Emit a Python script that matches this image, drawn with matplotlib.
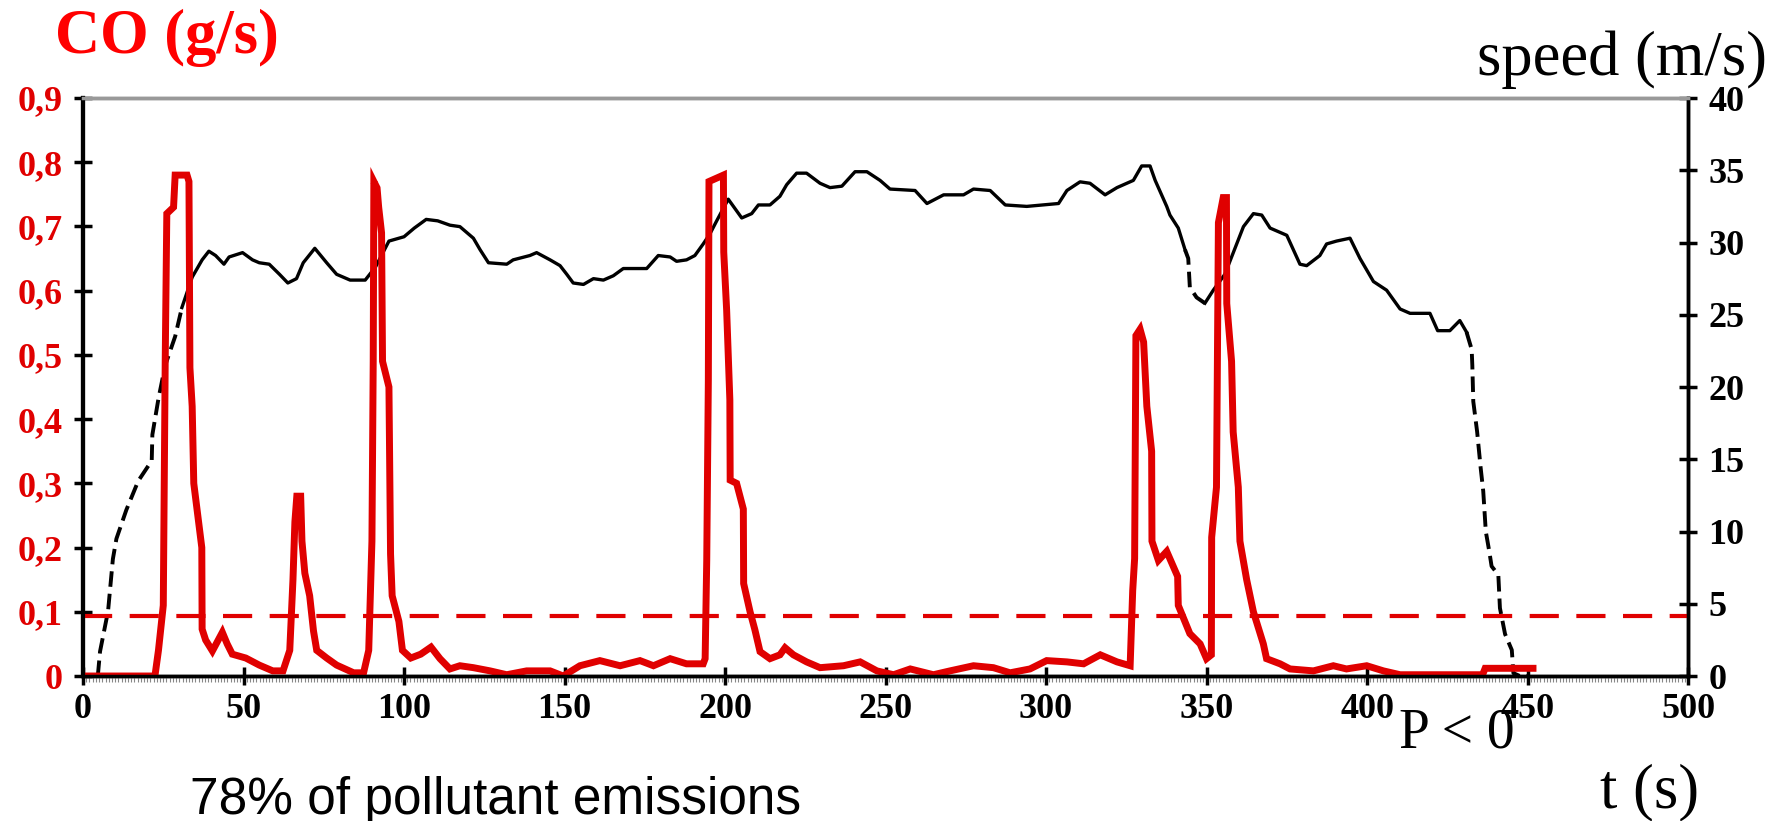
import numpy as np
import matplotlib
matplotlib.use('Agg')
import matplotlib.pyplot as plt

# speed (m/s)
t_speed = [0, 4.6, 5.3, 7.8, 9.3, 10.4, 13.5, 17.2, 21.4, 21.6, 23.5, 25.6, 28.7, 30.8,
           34.0, 37.1, 39.2, 41.3, 43.9, 45.5, 49.7, 52.8, 54.9, 58.0, 61.2, 63.8, 66.5,
           68.6, 72.2, 75.9, 79.0, 83.2, 87.9, 91.1, 95.3, 100.0, 103.2, 106.9, 110.5,
           114.3, 117.4, 121.6, 123.7, 126.3, 132.0, 134.0, 139.2, 141.3, 145.5, 148.6,
           150.7, 152.7, 155.9, 159.0, 162.1, 165.2, 168.3, 175.6, 179.2, 182.9, 184.9,
           188.0, 190.6, 193.2, 195.3, 197.4, 201.0, 202.6, 205.2, 208.3, 210.4, 214.0,
           217.1, 219.2, 222.3, 225.4, 229.6, 232.7, 236.4, 240.5, 244.2, 248.3, 251.4,
           259.2, 262.9, 268.1, 274.3, 277.4, 282.6, 287.3, 294.0, 303.9, 306.5, 310.6,
           313.7, 318.4, 322.1, 327.2, 329.8, 332.4, 334.0, 336.0, 337.6, 338.6, 341.2,
           343.3, 344.3, 344.8, 346.9, 349.5, 352.1, 355.7, 359.4, 361.5, 364.6, 367.2,
           369.8, 375.0, 379.1, 381.2, 385.3, 387.4, 390.5, 394.7, 397.8, 402.0, 406.1,
           410.3, 413.4, 419.6, 422.0, 425.8, 428.9, 431.0, 432.6, 432.8, 433.1, 434.3,
           435.4, 436.2, 437.0, 438.1, 438.8, 440.9, 441.4, 443.0, 445.1, 445.6, 447.6, 450.7]
speed = [0, 0, 1.7, 4.5, 8.1, 9.5, 11.5, 13.5, 14.9, 16.7, 19.2, 21.5, 23.5, 25.5,
         27.6, 28.8, 29.4, 29.1, 28.5, 29.0, 29.3, 28.8, 28.6, 28.5, 27.8, 27.2, 27.5,
         28.6, 29.6, 28.6, 27.8, 27.4, 27.4, 28.3, 30.1, 30.4, 31.0, 31.6, 31.5,
         31.2, 31.1, 30.3, 29.5, 28.6, 28.5, 28.8, 29.1, 29.3, 28.8, 28.4,
         27.8, 27.2, 27.1, 27.5, 27.4, 27.7, 28.2, 28.2, 29.1, 29.0, 28.7,
         28.8, 29.1, 29.9, 30.6, 31.5, 33.0, 32.5, 31.7, 32.0, 32.6, 32.6,
         33.2, 34.0, 34.8, 34.8, 34.1, 33.8, 33.9, 34.9, 34.9, 34.3, 33.7,
         33.6, 32.7, 33.3, 33.3, 33.7, 33.6, 32.6, 32.5, 32.7, 33.6, 34.2,
         34.1, 33.3, 33.8, 34.3, 35.3, 35.3, 34.3, 33.3, 32.5, 31.9, 31.0,
         29.5, 28.9, 26.9, 26.2, 25.8, 26.7, 27.8, 29.9, 31.1, 32.0, 31.9,
         31.0, 30.5, 28.5, 28.4, 29.1, 29.9, 30.1, 30.3, 28.9, 27.3, 26.7,
         25.4, 25.1, 25.1, 23.9, 23.9, 24.6, 23.8, 22.6, 21.5, 19.0, 16.9,
         14.4, 12.8, 10.0, 8.6, 7.6, 7.0, 4.7, 2.9, 1.8, 0.2, 0, 0]
dashed_spans = [(4.6, 30.8), (343.3, 349.5), (431.0, 450.7)]

# CO emission (g/s)
t_co = [0, 22.4, 23.5, 25.0, 25.6, 26.1, 28.2, 28.7, 32.4, 33.0, 33.3, 34.0, 34.5, 37.0,
        37.1, 38.2, 40.3, 41.8, 43.4, 44.9, 46.5, 50.7, 54.9, 59.1, 62.3, 64.4, 65.4,
        66.0, 66.6, 67.8, 68.2, 69.1, 70.6, 71.8, 72.8, 75.9, 79.0, 84.3, 87.4, 89.0,
        90.0, 90.4, 90.6, 91.6, 92.1, 93.0, 93.3, 95.3, 95.8, 96.3, 98.4, 99.5, 102.1,
        105.2, 108.4, 111.2, 114.3, 117.4, 121.6, 126.8, 132.0, 138.2, 145.5, 149.6,
        154.8, 161.0, 167.3, 173.5, 177.7, 182.9, 188.0, 193.2, 193.8, 194.3, 194.8,
        195.0, 199.5, 199.6, 200.5, 201.5, 201.6, 203.6, 205.7, 205.8, 207.8, 209.3,
        210.9, 214.0, 217.1, 218.7, 221.3, 225.4, 229.6, 236.9, 242.1, 247.3, 252.5,
        257.7, 264.9, 270.1, 277.4, 283.6, 288.8, 295.0, 300.2, 306.5, 311.7, 316.9,
        322.1, 326.2, 327.0, 327.6, 327.8, 328.0, 329.3, 330.4, 331.4, 332.9, 333.0,
        335.0, 337.6, 341.0, 341.2, 344.8, 348.0, 350.0, 351.5, 351.6, 353.1, 353.7,
        355.2, 356.2, 356.3, 357.8, 358.3, 359.9, 360.4, 362.5, 364.6, 367.7, 368.7,
        372.9, 376.0, 383.3, 389.5, 393.6, 399.9, 405.1, 410.3, 436.0, 436.8, 451.7]
co = [0, 0, 0.04, 0.11, 0.49, 0.72, 0.73, 0.78, 0.78, 0.77, 0.48, 0.42, 0.30, 0.20,
      0.073, 0.056, 0.039, 0.053, 0.068, 0.05, 0.034, 0.028, 0.017, 0.008, 0.008, 0.04, 0.15,
      0.24, 0.28, 0.28, 0.21, 0.16, 0.125, 0.07, 0.04, 0.028, 0.017, 0.005, 0.005, 0.04,
      0.21, 0.49, 0.77, 0.76, 0.73, 0.69, 0.49, 0.45, 0.19, 0.125, 0.085, 0.04, 0.028,
      0.034, 0.045, 0.027, 0.011, 0.016, 0.013, 0.008, 0.002, 0.008, 0.008, 0.0,
      0.016, 0.024, 0.016, 0.024, 0.016, 0.027, 0.019, 0.019, 0.027, 0.18, 0.46,
      0.77, 0.78, 0.66, 0.57, 0.43, 0.305, 0.30, 0.26, 0.144, 0.10, 0.072,
      0.038, 0.027, 0.033, 0.044, 0.033, 0.022, 0.013, 0.016, 0.022, 0.008, 0.002,
      0.011, 0.002, 0.008, 0.016, 0.013, 0.005, 0.011, 0.024, 0.022, 0.019, 0.033,
      0.022, 0.016, 0.133, 0.183, 0.35, 0.53, 0.54, 0.52, 0.42, 0.35, 0.21,
      0.18, 0.194, 0.155, 0.11, 0.066, 0.05, 0.027, 0.033, 0.216, 0.294, 0.706,
      0.745, 0.745, 0.58, 0.49, 0.38, 0.294, 0.21, 0.15, 0.10, 0.05, 0.027,
      0.019, 0.011, 0.008, 0.016, 0.011, 0.016, 0.008, 0.002, 0.002, 0.012, 0.012]
co_threshold = 0.093

co_ticks = [0, 0.1, 0.2, 0.3, 0.4, 0.5, 0.6, 0.7, 0.8, 0.9]
co_labels = ['0', '0,1', '0,2', '0,3', '0,4', '0,5', '0,6', '0,7', '0,8', '0,9']
speed_ticks = [0, 5, 10, 15, 20, 25, 30, 35, 40]
t_ticks = [0, 50, 100, 150, 200, 250, 300, 350, 400, 450, 500]

RED = '#e00000'
serif = 'Liberation Serif'
TICK_FS = 26

fig = plt.figure(figsize=(17.78, 8.21), dpi=100)
ax = fig.add_axes([0.0467, 0.1766, 0.9027, 0.704])
ax2 = ax.twinx()
ax.set_zorder(ax2.get_zorder() + 1)
ax.patch.set_visible(False)

# speed curve: solid + dashed parts
ts = np.array(t_speed)
sp = np.array(speed)
in_dash = np.zeros(len(ts), bool)
strict = np.zeros(len(ts), bool)
for a, b in dashed_spans:
    in_dash |= (ts >= a) & (ts <= b)
    strict |= (ts > a) & (ts < b)
ax2.plot(ts, np.where(~strict, sp, np.nan), color='black', lw=2.4)
ax2.plot(ts, np.where(in_dash, sp, np.nan), color='black', lw=2.8, ls=(0, (4, 1.8)))

# CO curve
ax.plot(t_co, co, color=RED, lw=5, solid_joinstyle='miter')
ax.axhline(co_threshold, color=RED, lw=3, ls=(0, (7, 4.2)))

ax.set_xlim(0, 500)
ax.set_ylim(0, 0.9)
ax2.set_ylim(0, 40)

ax.set_xticks(t_ticks)
ax.set_xticklabels([str(v) for v in t_ticks], fontfamily=serif, fontweight='bold', fontsize=TICK_FS)
ax.set_xticks(np.arange(0, 501, 1), minor=True)
ax.set_yticks(co_ticks)
ax.set_yticklabels(co_labels, fontfamily=serif, fontweight='bold', fontsize=TICK_FS, color=RED)
ax2.set_yticks(speed_ticks)
ax2.set_yticklabels([str(v) for v in speed_ticks], fontfamily=serif, fontweight='bold', fontsize=TICK_FS)

ax.tick_params(axis='both', which='major', direction='inout', length=13, width=2.5, color='black')
ax.tick_params(axis='x', which='major', pad=6)
ax.tick_params(axis='y', which='major', pad=8)
ax.tick_params(axis='x', which='minor', direction='out', length=4, width=0.8, color='#888888')
ax.tick_params(axis='y', which='minor', left=False)
ax2.tick_params(axis='y', direction='inout', length=13, width=2.5, pad=8)

for a in (ax, ax2):
    a.spines['left'].set_linewidth(3)
    a.spines['bottom'].set_linewidth(2.5)
    a.spines['right'].set_linewidth(2.5)
    a.spines['top'].set_color('#999999')
    a.spines['top'].set_linewidth(2.5)

fig.text(0.031, 0.935, 'CO (g/s)', color='#ff0000', fontfamily=serif, fontweight='bold',
         fontsize=45, va='baseline')
fig.text(0.994, 0.909, 'speed (m/s)', color='black', fontfamily=serif, fontsize=45,
         ha='right', va='baseline')
fig.text(0.107, 0.008, '78% of pollutant emissions', color='black', fontfamily='Liberation Sans',
         fontsize=37, va='baseline')
fig.text(0.900, 0.016, 't (s)', color='black', fontfamily=serif, fontsize=45, va='baseline')
fig.text(0.787, 0.090, 'P < 0', color='black', fontfamily=serif, fontsize=40, va='baseline')

fig.savefig('out.png', dpi=100)
